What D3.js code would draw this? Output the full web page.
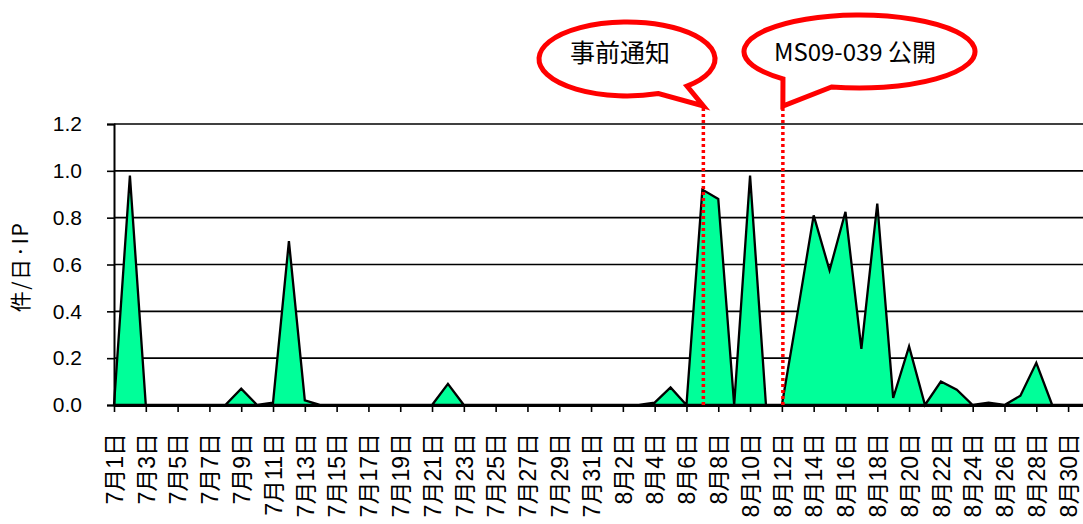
<!DOCTYPE html>
<html>
<head>
<meta charset="utf-8">
<script src="https://cdn.jsdelivr.net/npm/d3@7"></script>
<style>
  body { margin: 0; background: #fff; }
  svg { display: block; }
</style>
</head>
<body>
<svg id="chart" width="1083" height="524"></svg>
<script>
// Daily categories, July 1 to August 31
const dates = [
  "7月1日","7月2日","7月3日","7月4日","7月5日","7月6日","7月7日","7月8日","7月9日","7月10日",
  "7月11日","7月12日","7月13日","7月14日","7月15日","7月16日","7月17日","7月18日","7月19日","7月20日",
  "7月21日","7月22日","7月23日","7月24日","7月25日","7月26日","7月27日","7月28日","7月29日","7月30日",
  "7月31日","8月1日","8月2日","8月3日","8月4日","8月5日","8月6日","8月7日","8月8日","8月9日",
  "8月10日","8月11日","8月12日","8月13日","8月14日","8月15日","8月16日","8月17日","8月18日","8月19日",
  "8月20日","8月21日","8月22日","8月23日","8月24日","8月25日","8月26日","8月27日","8月28日","8月29日",
  "8月30日","8月31日"
];

// 件/日·IP for each day
const values = [
  0, 0.98, 0, 0, 0, 0, 0, 0, 0.07, 0,
  0.01, 0.70, 0.02, 0, 0, 0, 0, 0, 0, 0,
  0, 0.09, 0, 0, 0, 0, 0, 0, 0, 0,
  0, 0, 0, 0, 0.01, 0.075, 0, 0.92, 0.88, 0,
  0.98, 0, 0, 0.40, 0.81, 0.575, 0.825, 0.24, 0.86, 0.03,
  0.25, 0, 0.10, 0.065, 0, 0.01, 0, 0.04, 0.18, 0,
  0, 0
];

const yTicks = [0, 0.2, 0.4, 0.6, 0.8, 1.0, 1.2];
const xTickLabels = dates.filter((d, i) => i % 2 === 0);

// Annotated days
const eventDates = ["8月7日", "8月12日"];
const eventLabels = ["事前通知", "MS09-039 公開"];

const yTitle = "件/日·IP";

const svg = d3.select("#chart");
const plotLeft = 114, plotRight = 1084, plotTop = 124, plotBottom = 405;

const x = d3.scalePoint().domain(dates).range([plotLeft, plotRight]);
const y = d3.scaleLinear().domain([0, 1.2]).range([plotBottom, plotTop]);

const labelFont = "'Liberation Sans', 'Noto Sans CJK JP', Arial, sans-serif";

// Horizontal gridlines
svg.append("g")
  .selectAll("line")
  .data(yTicks.filter(d => d > 0))
  .join("line")
  .attr("x1", plotLeft).attr("x2", 1083)
  .attr("y1", d => y(d)).attr("y2", d => y(d))
  .attr("stroke", "#000").attr("stroke-width", 1.6);

// Area series
const series = dates.map((d, i) => ({ date: d, v: values[i] }));
const area = d3.area()
  .x(d => x(d.date))
  .y0(y(0))
  .y1(d => y(d.v));
svg.append("path")
  .datum(series)
  .attr("d", area)
  .attr("fill", "#00FF99")
  .attr("stroke", "#000")
  .attr("stroke-width", 2.3)
  .attr("stroke-linejoin", "miter");

// Y axis
const yAxis = svg.append("g")
  .attr("transform", `translate(${plotLeft},0)`)
  .call(d3.axisLeft(y).tickValues(yTicks).tickFormat(d3.format(".1f")).tickSize(7).tickPadding(25));
yAxis.select(".domain").attr("stroke", "#000").attr("stroke-width", 2);
yAxis.selectAll(".tick line").attr("stroke", "#000").attr("stroke-width", 1.6);
yAxis.selectAll(".tick text")
  .attr("font-family", labelFont)
  .attr("font-size", 21)
  .attr("fill", "#000");

// X axis
const xAxis = svg.append("g")
  .attr("transform", `translate(0,${plotBottom})`)
  .call(d3.axisBottom(x).tickValues(xTickLabels).tickSize(7).tickSizeOuter(0));
xAxis.select(".domain").attr("stroke", "#000").attr("stroke-width", 3);
xAxis.selectAll(".tick line").attr("stroke", "#000").attr("stroke-width", 1.6);
xAxis.selectAll(".tick text")
  .attr("font-family", labelFont)
  .attr("font-size", 23)
  .attr("fill", "#000")
  .attr("transform", "rotate(-90)")
  .attr("text-anchor", "end")
  .attr("x", -28)
  .attr("y", 0)
  .attr("dy", "0.36em");

// Y axis title
svg.append("text")
  .attr("transform", "translate(20,267) rotate(-90)")
  .attr("text-anchor", "middle")
  .attr("dy", "0.36em")
  .attr("font-family", "'Noto Sans CJK JP', sans-serif")
  .attr("font-size", 21)
  .attr("letter-spacing", 1.5)
  .text(yTitle);

// Event markers
svg.append("g")
  .selectAll("line")
  .data(eventDates)
  .join("line")
  .attr("x1", d => x(d) + 1).attr("x2", d => x(d) + 1)
  .attr("y1", 108).attr("y2", plotBottom)
  .attr("stroke", "#FF0000")
  .attr("stroke-width", 3.5)
  .attr("stroke-dasharray", "3,3");

// Speech-bubble callouts
const bubbleShapes = [
  { cx: 627, cy: 59, rx: 88, ry: 37, aStart: 69, aEnd: 47, tipY: 106, tx: 620, ty: 53, fs: 25 },
  { cx: 859.5, cy: 51.5, rx: 115.5, ry: 36.5, aStart: 131.5, aEnd: 104, tipY: 106, tx: 855, ty: 52.5, fs: 24 }
];

function bubblePath(b, tipX) {
  const p = a => [b.cx + b.rx * Math.cos(a * Math.PI / 180), b.cy + b.ry * Math.sin(a * Math.PI / 180)];
  const s = p(b.aStart), e = p(b.aEnd);
  return `M${s[0]},${s[1]} A${b.rx},${b.ry} 0 1 1 ${e[0]},${e[1]} L${tipX},${b.tipY} Z`;
}

const callouts = svg.append("g")
  .selectAll("g")
  .data(eventDates.map((d, i) => ({ date: d, label: eventLabels[i], shape: bubbleShapes[i] })))
  .join("g");

callouts.append("path")
  .attr("d", d => bubblePath(d.shape, x(d.date) + 1))
  .attr("fill", "#fff")
  .attr("stroke", "#FF0000")
  .attr("stroke-width", 5)
  .attr("stroke-linejoin", "miter");

callouts.append("text")
  .attr("x", d => d.shape.tx)
  .attr("y", d => d.shape.ty)
  .attr("text-anchor", "middle")
  .attr("dy", "0.36em")
  .attr("font-family", "'Noto Sans CJK JP', sans-serif")
  .attr("font-size", d => d.shape.fs)
  .attr("fill", "#000")
  .text(d => d.label);
</script>
</body>
</html>
